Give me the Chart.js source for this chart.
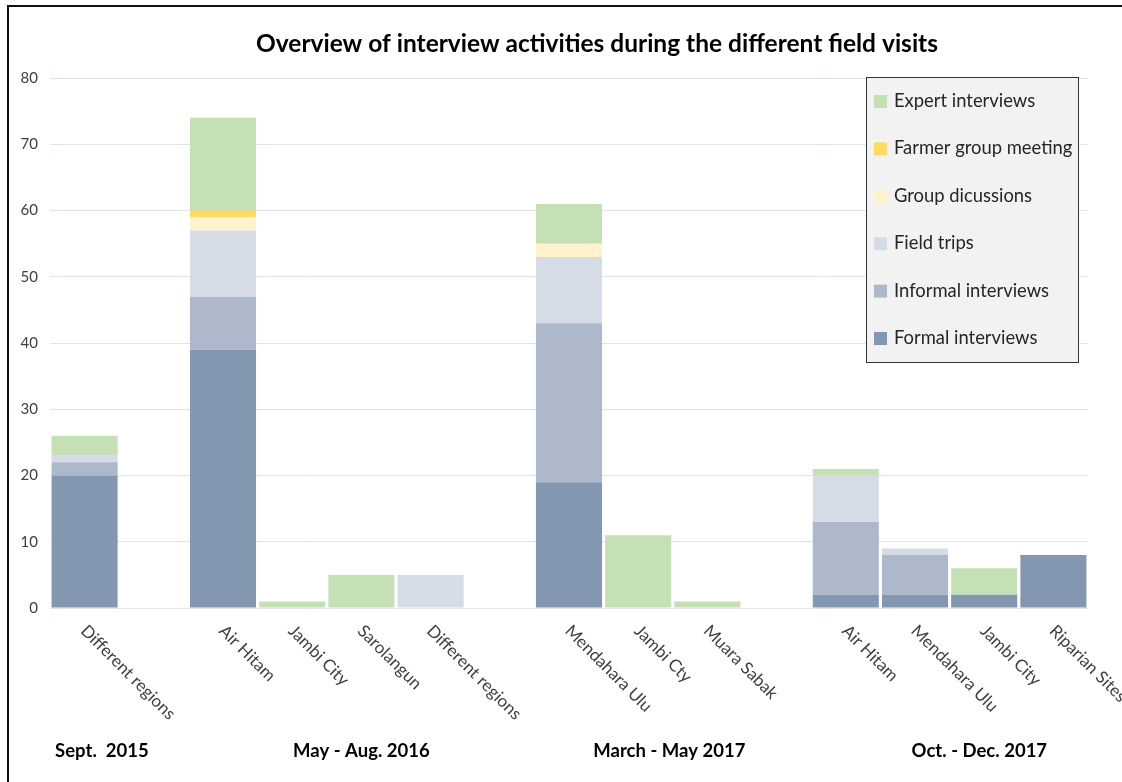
<!DOCTYPE html>
<html>
<head>
<meta charset="utf-8">
<title>Overview of interview activities during the different field visits</title>
<script src="https://cdn.jsdelivr.net/npm/chart.js@4/dist/chart.umd.min.js"></script>
<style>
  html, body { margin: 0; padding: 0; background: #fff; overflow: hidden; }
  #wrap { position: relative; width: 1122px; height: 782px; }
  #frame { position: absolute; left: 7px; top: 5px; width: 1200px; height: 900px;
           border-left: 2px solid #111; border-top: 2px solid #111; pointer-events: none; }
  canvas { position: absolute; left: 0; top: 0; }
</style>
</head>
<body>
<div id="wrap">
  <canvas id="chart" width="1122" height="782"></canvas>
  <div id="frame"></div>
</div>
<script>
// Sites visited (blank entries separate the field visits)
const categories = ['Different regions', '', 'Air Hitam', 'Jambi City', 'Sarolangun', 'Different regions', '',
                    'Mendahara Ulu', 'Jambi Cty', 'Muara Sabak', '', 'Air Hitam', 'Mendahara Ulu', 'Jambi City', 'Riparian Sites'];

// Number of activities per site
const formalInterviews   = [20, 0, 39, 0, 0, 0, 0, 19, 0, 0, 0, 2, 2, 2, 8];
const informalInterviews = [ 2, 0,  8, 0, 0, 0, 0, 24, 0, 0, 0, 11, 6, 0, 0];
const fieldTrips         = [ 1, 0, 10, 0, 0, 5, 0, 10, 0, 0, 0, 7, 1, 0, 0];
const groupDiscussions   = [ 0, 0,  2, 0, 0, 0, 0,  2, 0, 0, 0, 0, 0, 0, 0];
const farmerGroupMeeting = [ 0, 0,  1, 0, 0, 0, 0,  0, 0, 0, 0, 0, 0, 0, 0];
const expertInterviews   = [ 3, 0, 14, 1, 5, 0, 0,  6, 11, 1, 0, 1, 0, 4, 0];

const yTicks = [0, 10, 20, 30, 40, 50, 60, 70, 80];

// Field visit periods, anchored at a (fractional) category position
const periodLabels = ['Sept.  2015', 'May - Aug. 2016', 'March - May 2017', 'Oct. - Dec. 2017'];
const periodAnchors = [0.25, 4.0, 8.45, 12.93];

const TEXT_FONT = 'Lato, "Open Sans", sans-serif';

const titlePlugin = {
  id: 'chartTitle',
  afterDraw(chart) {
    const ctx = chart.ctx;
    ctx.save();
    ctx.font = 'bold 24.5px ' + TEXT_FONT;
    ctx.fillStyle = '#000';
    ctx.textAlign = 'center';
    ctx.textBaseline = 'middle';
    ctx.fillText('Overview of interview activities during the different field visits', 597, 44);
    ctx.restore();
  }
};

const xLabelPlugin = {
  id: 'slantedLabels',
  afterDraw(chart) {
    const ctx = chart.ctx;
    const xs = chart.scales.x;
    const base = chart.chartArea.bottom;
    ctx.save();
    ctx.font = '17px ' + TEXT_FONT;
    ctx.fillStyle = '#404040';
    ctx.textAlign = 'left';
    ctx.textBaseline = 'top';
    categories.forEach((lab, i) => {
      if (!lab) return;
      const x = xs.getPixelForValue(i);
      ctx.save();
      ctx.translate(x + 5, base + 14);
      ctx.rotate(Math.PI / 4);
      ctx.fillText(lab, 0, 0);
      ctx.restore();
    });
    ctx.font = 'bold 18.5px ' + TEXT_FONT;
    ctx.fillStyle = '#000';
    ctx.textAlign = 'center';
    ctx.textBaseline = 'middle';
    periodLabels.forEach((p, i) => {
      ctx.fillText(p, xs.getPixelForValue(periodAnchors[i]), 751);
    });
    ctx.restore();
  }
};

const legendPlugin = {
  id: 'boxLegend',
  afterDraw(chart) {
    const ctx = chart.ctx;
    const area = chart.chartArea;
    const w = 212, h = 285;
    const x0 = area.right - 10 - w, y0 = area.top - 1;
    ctx.save();
    ctx.fillStyle = '#F2F2F2';
    ctx.fillRect(x0, y0, w, h);
    ctx.strokeStyle = '#333';
    ctx.lineWidth = 1;
    ctx.strokeRect(x0 + 0.5, y0 + 0.5, w, h);
    ctx.font = '18.4px ' + TEXT_FONT;
    ctx.textAlign = 'left';
    ctx.textBaseline = 'middle';
    const items = chart.data.datasets.slice().reverse();
    items.forEach((ds, i) => {
      const cy = y0 + 24 + i * 47.4;
      ctx.fillStyle = ds.backgroundColor;
      ctx.fillRect(x0 + 8, cy - 6, 13, 13);
      ctx.fillStyle = '#262626';
      ctx.fillText(ds.label, x0 + 28, cy);
    });
    ctx.restore();
  }
};

new Chart(document.getElementById('chart'), {
  type: 'bar',
  data: {
    labels: categories,
    datasets: [
      { label: 'Formal interviews',    data: formalInterviews,   backgroundColor: '#8497B0' },
      { label: 'Informal interviews',  data: informalInterviews, backgroundColor: '#ADB9CA' },
      { label: 'Field trips',          data: fieldTrips,         backgroundColor: '#D6DCE5' },
      { label: 'Group dicussions',     data: groupDiscussions,   backgroundColor: '#FFF2CC' },
      { label: 'Farmer group meeting', data: farmerGroupMeeting, backgroundColor: '#FFD966' },
      { label: 'Expert interviews',    data: expertInterviews,   backgroundColor: '#C5E0B4' }
    ]
  },
  options: {
    responsive: false,
    animation: false,
    devicePixelRatio: 1,
    layout: { padding: { top: 78, right: 34, left: 0, bottom: 0 } },
    datasets: { bar: { barPercentage: 0.955, categoryPercentage: 1.0, borderWidth: 0 } },
    plugins: {
      legend: { display: false },
      title: { display: false },
      tooltip: { enabled: false }
    },
    scales: {
      x: {
        stacked: true,
        grid: { display: false },
        border: { display: false },
        ticks: { display: false },
        afterFit(s) { s.height = 174; }
      },
      y: {
        stacked: true,
        min: 0,
        max: 80,
        afterBuildTicks(s) { s.ticks = yTicks.map(v => ({ value: v })); },
        grid: { color: '#DFE3EA', lineWidth: 1, drawTicks: false },
        border: { display: false },
        ticks: {
          padding: 12,
          color: '#404040',
          font: { family: TEXT_FONT, size: 15 }
        },
        afterFit(s) { s.width = 50; }
      }
    }
  },
  plugins: [titlePlugin, xLabelPlugin, legendPlugin]
});
</script>
</body>
</html>
